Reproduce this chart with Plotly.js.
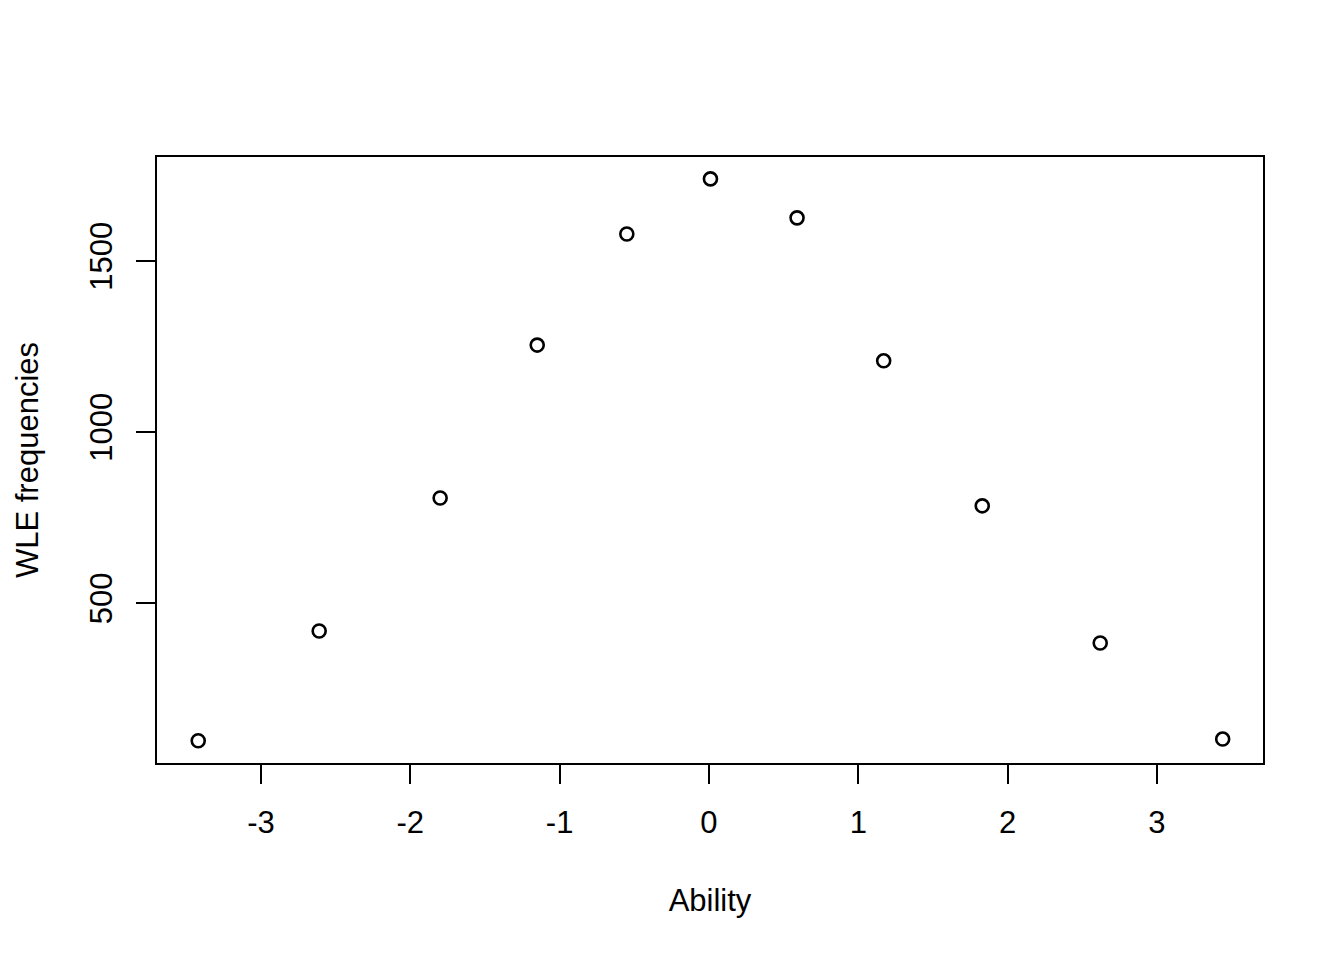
<!DOCTYPE html>
<html>
<head>
<meta charset="utf-8">
<script src="https://cdn.plot.ly/plotly-3.0.1.min.js"></script>
<style>
  body { margin: 0; background: white; }
  #chart { width: 1344px; height: 960px; }
</style>
</head>
<body>
<div id="chart"></div>
<script>
// WLE frequencies by ability group
const ability = [-3.42, -2.61, -1.80, -1.15, -0.55, 0.01, 0.59, 1.17, 1.83, 2.62, 3.44];
const wleFreq = [97, 418, 807, 1254, 1579, 1740, 1626, 1208, 784, 383, 102];

const xTicks = [-3, -2, -1, 0, 1, 2, 3];
const yTicks = [500, 1000, 1500];

const FONT = 'Liberation Sans, Arial, sans-serif';

const data = [{
  x: ability,
  y: wleFreq,
  type: 'scatter',
  mode: 'markers',
  marker: {
    symbol: 'circle-open',
    size: 13,
    color: 'black',
    line: { width: 2.6, color: 'black' }
  },
  hoverinfo: 'x+y'
}];

const layout = {
  width: 1344,
  height: 960,
  margin: { l: 157, r: 81, t: 157, b: 197 },
  paper_bgcolor: 'white',
  plot_bgcolor: 'white',
  showlegend: false,
  font: { family: FONT, size: 31, color: 'black' },
  xaxis: {
    range: [-3.696, 3.710],
    tickvals: xTicks,
    ticktext: xTicks.map(String),
    tickfont: { family: FONT, size: 31 },
    ticks: 'outside',
    ticklen: 19,
    tickwidth: 2,
    tickcolor: 'black',
    showgrid: false,
    zeroline: false,
    showline: true,
    linecolor: 'black',
    linewidth: 2,
    mirror: true,
    ticklabelstandoff: 12,
    title: { text: 'Ability', font: { family: FONT, size: 31 }, standoff: 50 }
  },
  yaxis: {
    range: [32, 1804],
    tickvals: yTicks,
    ticktext: yTicks.map(String),
    tickfont: { family: FONT, size: 31 },
    tickangle: -90,
    ticks: 'outside',
    ticklen: 19,
    tickwidth: 2,
    tickcolor: 'black',
    showgrid: false,
    zeroline: false,
    showline: true,
    linecolor: 'black',
    linewidth: 2,
    mirror: true,
    ticklabelstandoff: 12,
    title: { text: 'WLE frequencies', font: { family: FONT, size: 31 }, standoff: 36 }
  }
};

Plotly.newPlot('chart', data, layout, { displayModeBar: false, staticPlot: true });
</script>
</body>
</html>
